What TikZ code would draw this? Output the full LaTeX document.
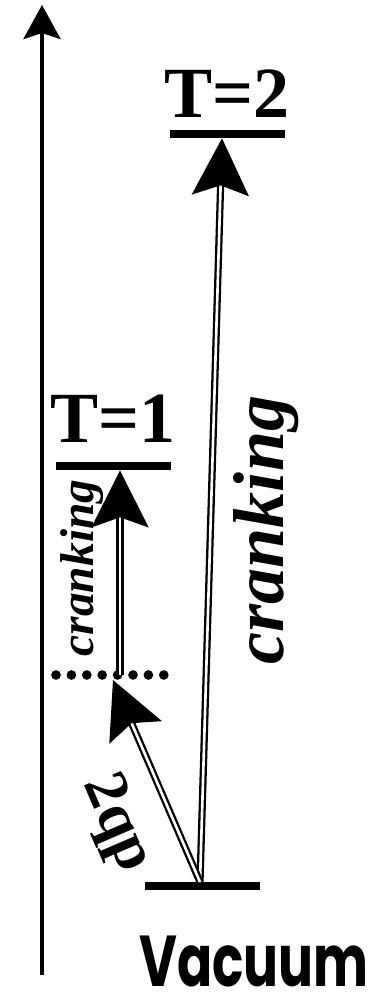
\documentclass[tikz,border=0pt]{standalone}
\usepackage{fontspec}
\setmainfont{Liberation Serif}
\newfontfamily\vacfont{Poppins}
\usetikzlibrary{arrows.meta, positioning}

\begin{document}
\begin{tikzpicture}[x=0.2mm, y=-0.2mm,
    level/.style={fill=black, inner sep=0pt, minimum width=23mm, minimum height=1.6mm},
    dbl/.style={double, line width=1.3pt, double distance=1.5pt,
        -{Stealth[length=11.4mm, width=11.4mm, inset=2mm]}},
    tlbl/.style={inner sep=0pt, font=\fontsize{41}{41}\selectfont\bfseries},
    dots/.style={line width=5.5pt, line cap=round, dash pattern=on 0pt off 15.4*0.2mm}]
    \useasboundingbox (0,0) rectangle (387,992);

    % energy axis
    \coordinate (axlo) at (42,975);
    \coordinate (axhi) at (42,5);
    \draw[line width=2.2pt, -{Stealth[length=6.8mm, width=7.4mm, inset=1.2mm]}] (axlo) -- (axhi);

    % levels
    \node[level] (vac) at (202,886) {};
    \node[level] (t1) at (113,466) {};
    \node[level] (t2) at (227,134) {};
    \coordinate (qpl) at (56,675);
    \coordinate (qpr) at (166,675);
    \draw[dots] (qpl) -- (qpr);

    % excitations
    \coordinate (o) at (200,882);
    \coordinate (qp) at (113,680);
    \coordinate (qpc) at (120,675);
    \draw[dbl] (o) -- ([xshift=-1mm]t2.south);
    \draw[dbl] (o) -- (qp);
    \draw[dbl] (qpc) -- (t1.south -| qpc);

    % labels
    \node[tlbl, above=2.4mm of t2] (t2lbl) {T=2};
    \node[tlbl, above=3.8mm of t1] (t1lbl) {T=1};
    \node[rotate=90, font=\fontsize{41}{41}\selectfont\bfseries\itshape] (crank2) at (266,530) {cranking};
    \node[rotate=90, font=\fontsize{27}{27}\selectfont\bfseries\itshape] (crank1) at (82,568) {cranking};
    \node[rotate=-66.7, font=\fontsize{35}{35}\selectfont\bfseries] (qplbl) at (116,824) {2qp};
    \node[anchor=base, inner sep=0pt, xscale=0.72, font=\fontsize{41}{41}\selectfont\vacfont\bfseries] (vaclbl) at (254,986) {Vacuum};
\end{tikzpicture}
\end{document}
